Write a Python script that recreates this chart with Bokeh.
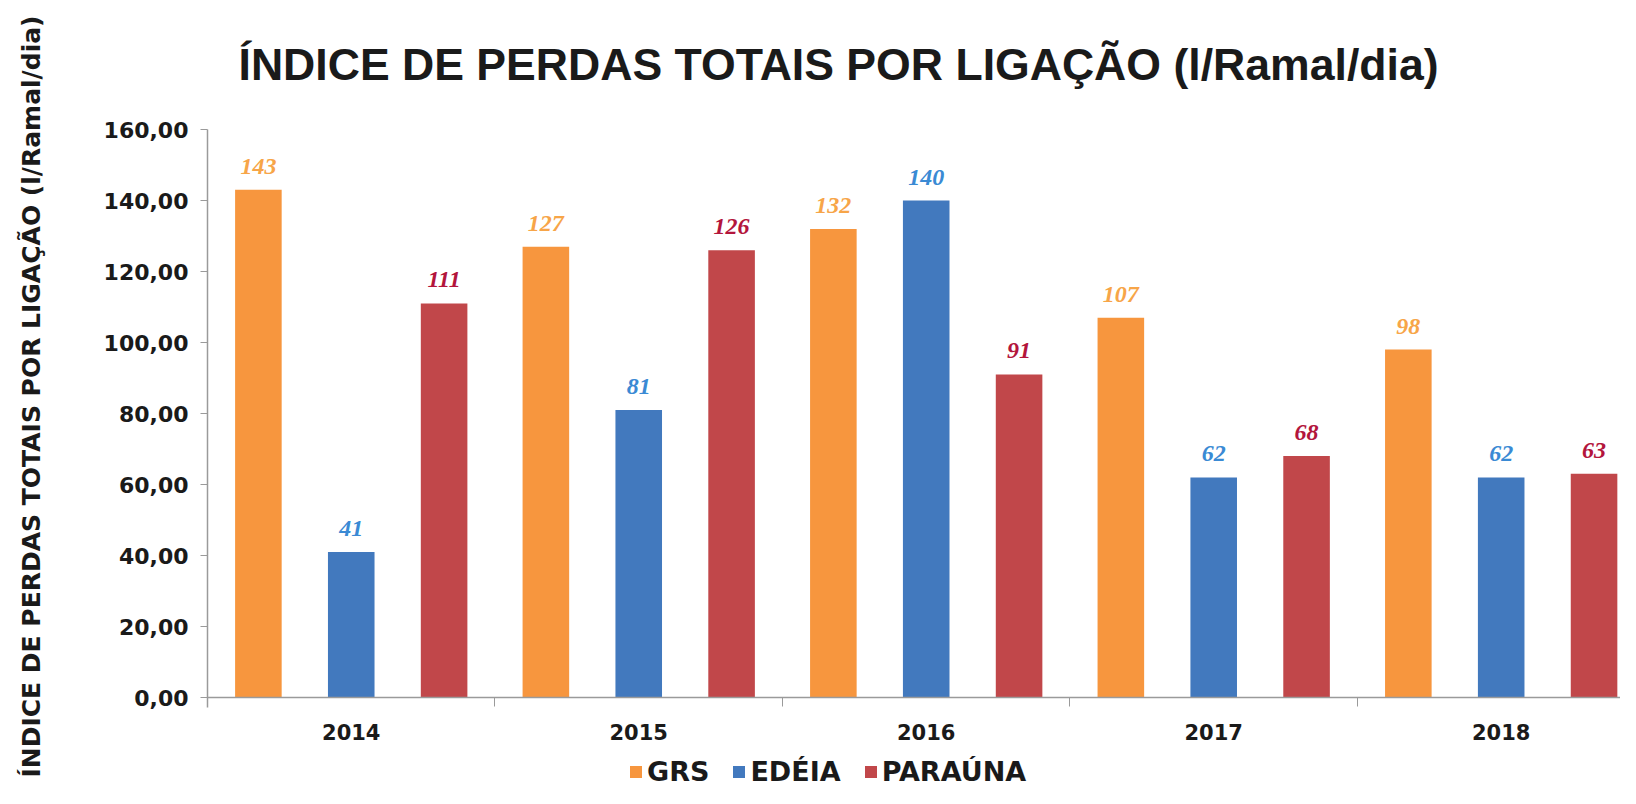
from bokeh.plotting import figure
from bokeh.models import (Range1d, FixedTicker, CustomJSTickFormatter, ColumnDataSource,
                          Legend, LegendItem, Title)
from bokeh.core.properties import value
from bokeh.embed import file_html
from bokeh.resources import INLINE

years = ["2014", "2015", "2016", "2017", "2018"]
series_names = ["GRS", "EDÉIA", "PARAÚNA"]
grs = [143, 127, 132, 107, 98]
edeia = [41, 81, 140, 62, 62]
parauna = [111, 126, 91, 68, 63]
y_ticks = [0, 20, 40, 60, 80, 100, 120, 140, 160]

bar_colors = ["#F7963E", "#4279BE", "#C1474A"]
label_colors = ["#F7A548", "#3A8AD4", "#B3153C"]
offsets = [0.177, 0.50, 0.823]
bar_w = 0.162

title_text = "ÍNDICE DE PERDAS TOTAIS POR LIGAÇÃO (l/Ramal/dia)"
ylabel_text = "ÍNDICE DE PERDAS TOTAIS POR LIGAÇÃO (l/Ramal/dia)"

Y_MIN = -25.63  # room below the zero line for year labels and legend
p = figure(width=1620, height=788, x_range=Range1d(0, 4.915), y_range=Range1d(Y_MIN, 160),
           output_backend="svg", toolbar_location=None, title=None,
           min_border_left=207, min_border_right=0, min_border_top=129, min_border_bottom=0)
p.outline_line_color = None
p.grid.visible = False
p.background_fill_color = "white"
p.border_fill_color = "white"

# spacer (closest to frame) then the real title
p.add_layout(Title(text=" ", text_font_size="1px", standoff=38), "above")
p.add_layout(Title(text=title_text, text_font="Liberation Sans", text_font_style="bold",
                   text_font_size="44.6px", text_color="#1a1a1a", align="left",
                   offset=31, standoff=0), "above")

items = []
for k, (name, vals) in enumerate(zip(series_names, [grs, edeia, parauna])):
    xs = [i + offsets[k] for i in range(len(years))]
    src = ColumnDataSource(dict(x=xs, top=vals, lbl=[str(v) for v in vals]))
    r = p.vbar(x="x", top="top", width=bar_w, bottom=0, source=src,
               fill_color=bar_colors[k], line_color=None)
    p.text(x="x", y="top", text="lbl", source=src, text_align="center",
           text_baseline="bottom", y_offset=-16, text_color=label_colors[k],
           text_font=value("Liberation Serif"), text_font_style="bold italic",
           text_font_size="24px")
    items.append(LegendItem(label=name, renderers=[r]))

# x axis drawn on the zero line
xa = p.xaxis[0]
xa.fixed_location = 0
xa.ticker = FixedTicker(ticks=[i + 0.5 for i in range(len(years))], minor_ticks=[1, 2, 3, 4])
xa.major_label_overrides = {i + 0.5: y for i, y in enumerate(years)}
xa.major_tick_line_color = None
xa.minor_tick_line_color = "#9A9A9A"
xa.minor_tick_out = 9
xa.minor_tick_in = 0
xa.axis_line_color = "#9A9A9A"
xa.axis_line_width = 1.5
xa.major_label_text_font = "DejaVu Sans"
xa.major_label_text_font_style = "bold"
xa.major_label_text_font_size = "21px"
xa.major_label_text_color = "#1a1a1a"
xa.major_label_standoff = 17

ya = p.yaxis[0]
ya.bounds = (-2.8, 160)
ya.ticker = FixedTicker(ticks=y_ticks)
ya.formatter = CustomJSTickFormatter(code="return tick.toFixed(2).replace('.', ',');")
ya.minor_tick_line_color = None
ya.major_tick_line_color = "#9A9A9A"
ya.major_tick_out = 7
ya.major_tick_in = 0
ya.axis_line_color = "#9A9A9A"
ya.axis_line_width = 1.5
ya.major_label_text_font = "DejaVu Sans"
ya.major_label_text_font_style = "bold"
ya.major_label_text_font_size = "22px"
ya.major_label_text_color = "#1a1a1a"
ya.major_label_standoff = 12

# vertical axis title: spacer next to the axis, then the rotated title
p.add_layout(Title(text=" ", text_font_size="1px", standoff=52), "left")
p.add_layout(Title(text=ylabel_text, text_font="DejaVu Sans", text_font_style="bold",
                   text_font_size="25px", text_color="#1a1a1a", align="right",
                   offset=-114, standoff=0), "left")

legend = Legend(items=items, orientation="horizontal", location=(421, 1),
                label_text_font="DejaVu Sans", label_text_font_style="bold",
                label_text_font_size="27px", label_text_color="#1a1a1a",
                glyph_width=15, glyph_height=15, label_standoff=4, spacing=22,
                padding=0, margin=0, border_line_color=None, background_fill_alpha=0)
p.add_layout(legend, "center")

open("out.html", "w").write(file_html(p, INLINE))
